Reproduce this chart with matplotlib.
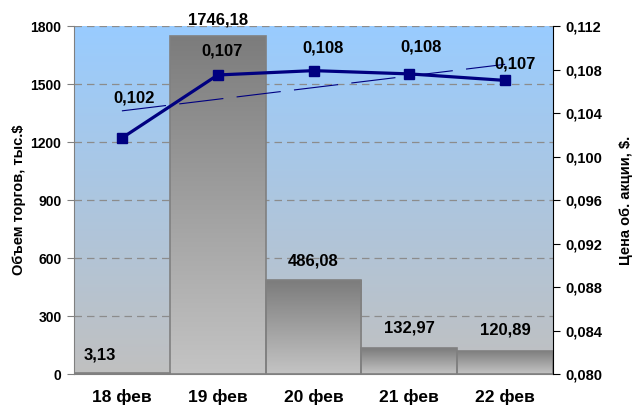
import numpy as np
import matplotlib
matplotlib.use("Agg")
import matplotlib.pyplot as plt
from matplotlib.colors import LinearSegmentedColormap
from matplotlib.ticker import FuncFormatter

plt.rcParams['font.family'] = ['Liberation Sans', 'DejaVu Sans']
plt.rcParams['font.weight'] = 'bold'

days = ['18 фев', '19 фев', '20 фев', '21 фев', '22 фев']
volume = [3.13, 1746.18, 486.08, 132.97, 120.89]          # тыс.$
price = [0.1017, 0.1075, 0.1079, 0.1076, 0.1070]          # $
price_labels = ['0,102', '0,107', '0,108', '0,108', '0,107']

x = np.arange(len(days))

fig = plt.figure(figsize=(6.35, 4.07), dpi=100)
ax = fig.add_axes([0.1165, 0.081, 0.7545, 0.855])
ax2 = ax.twinx()

# background gradient (blue top -> gray bottom)
bg = LinearSegmentedColormap.from_list('bg', ['#c0c0c0', '#99ccff'])
ax.imshow(np.linspace(0, 1, 256).reshape(-1, 1), extent=[-0.5, 4.5, 0, 1800],
          origin='lower', aspect='auto', cmap=bg, zorder=0)

# bars with own vertical gradient
bars = ax.bar(x, volume, width=1.0, facecolor='none', edgecolor='#808080',
              linewidth=1.2, zorder=2)
barmap = LinearSegmentedColormap.from_list('bar', ['#c4c4c4', '#7c7c7c'])
for b in bars:
    x0, w, h = b.get_x(), b.get_width(), b.get_height()
    im = ax.imshow(np.linspace(0, 1, 256).reshape(-1, 1), extent=[x0, x0 + w, 0, h],
                   origin='lower', aspect='auto', cmap=barmap, zorder=1.5)
    im.set_clip_path(b)

ax.set_xlim(-0.5, 4.5)
ax.set_ylim(0, 1800)
ax.set_yticks(np.arange(0, 1801, 300))
ax.set_axisbelow(True)
ax.yaxis.grid(True, linestyle=(0, (6, 4)), color='#8c8c8c', linewidth=0.9)
ax.set_xticks(x)
ax.set_xticklabels(days, fontsize=12.5, fontweight='bold')
ax.tick_params(axis='x', length=0, pad=11)
ax.tick_params(axis='y', direction='out', length=5, color='#808080', labelsize=10, pad=4)
for s in ['top', 'right']:
    ax.spines[s].set_visible(False)
ax.spines['left'].set_color('#808080')
ax.spines['bottom'].set_color('#808080')
ax.set_ylabel('Объем торгов, тыс.$', fontsize=10.5, fontweight='bold', labelpad=3)

# bar value labels
bar_off = [(-22, 11), (0, 9), (0, 12), (0, 13), (0, 13)]
for xi, v, off in zip(x, volume, bar_off):
    ax.annotate(f'{v:.2f}'.replace('.', ','), (xi, v), xytext=off,
                textcoords='offset pixels', ha='center', va='bottom',
                fontsize=12, fontweight='bold', zorder=5)

# price line + linear trend
ax2.plot(x, price, color='#000080', linewidth=2.3, marker='s', markersize=7, zorder=4)
k, c = np.polyfit(x, price, 1)
ax2.plot(x, k * x + c, color='#000080', linewidth=0.8, dashes=(40, 12), zorder=3)
ax2.set_ylim(0.080, 0.112)
ax2.set_yticks(np.arange(0.080, 0.1121, 0.004))
ax2.yaxis.set_major_formatter(FuncFormatter(lambda v, p: f'{v:.3f}'.replace('.', ',')))
ax2.tick_params(axis='y', direction='out', length=5, color='black', labelsize=10.5, pad=4)
for s in ['top', 'left', 'bottom']:
    ax2.spines[s].set_visible(False)
ax2.spines['right'].set_color('black')
ax2.set_ylabel('Цена об. акции, $.', fontsize=10.5, fontweight='bold', labelpad=12)

line_off = [(12, 33), (4, 16), (10, 15), (12, 19), (10, 9)]
for xi, v, lab, off in zip(x, price, price_labels, line_off):
    ax2.annotate(lab, (xi, v), xytext=off, textcoords='offset pixels',
                 ha='center', va='bottom', fontsize=12, fontweight='bold', zorder=6)

fig.savefig('out.png', dpi=100)
